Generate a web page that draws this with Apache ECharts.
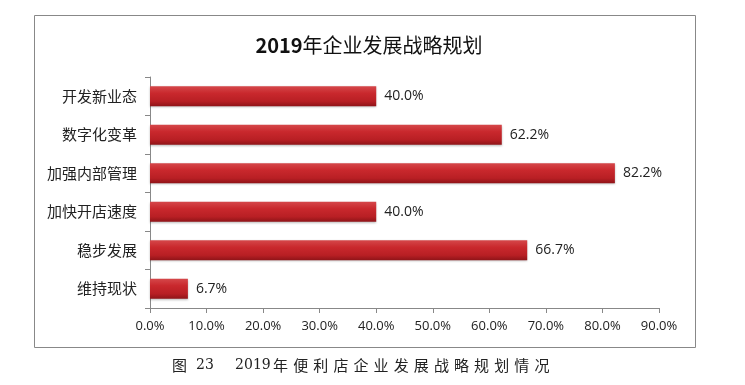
<!DOCTYPE html>
<html><head><meta charset="utf-8">
<script src="https://cdn.jsdelivr.net/npm/echarts@6/dist/echarts.min.js"></script>
<style>html,body{margin:0;padding:0;background:#fff}#c{width:745px;height:385px}</style>
</head><body><div id="c"></div>
<script>
var categories = ['开发新业态','数字化变革','加强内部管理','加快开店速度','稳步发展','维持现状'];
var values = [40.0, 62.2, 82.2, 40.0, 66.7, 6.7];
var xTicks = [0,10,20,30,40,50,60,70,80,90];
var titleYear = '2019';
var titleRest = '年企业发展战略规划';
var captionParts = ['图','23','2019','年','便','利','店','企','业','发','展','战','略','规','划','情','况'];

var captionText = captionParts.map(function(s){
  return '{' + (s === '2019' ? 'y' : (s === '23' ? 'n' : 'c')) + '|' + s + '}';
}).join('');

var chart = echarts.init(document.getElementById('c'));
chart.setOption({
  animation: false,
  title: {text: '{a|' + titleYear + '}{b|' + titleRest + '}', left: 364, textAlign: 'center', top: 30,
    textStyle: {rich: {
      a: {fontFamily: 'Noto Sans CJK SC', fontWeight: 'bold', fontSize: 20, color: '#111'},
      b: {fontFamily: 'Noto Sans CJK SC', fontWeight: 'normal', fontSize: 20, color: '#111'}}}},
  grid: {left: 150, right: 86, top: 77, bottom: 77},
  xAxis: {type: 'value', min: xTicks[0], max: xTicks[xTicks.length-1], interval: 10,
    axisLine: {show: true, lineStyle: {color: '#888'}},
    axisTick: {show: true, length: 5, lineStyle: {color: '#888'}},
    splitLine: {show: false},
    axisLabel: {formatter: function(v){return v.toFixed(1)+'%';}, color: '#222', fontSize: 13,
      fontFamily: 'Open Sans', margin: 12}},
  yAxis: {type: 'category', data: categories, inverse: true,
    axisLine: {show: true, lineStyle: {color: '#888'}},
    axisTick: {show: true, length: 5, lineStyle: {color: '#888'}},
    axisLabel: {color: '#222', fontSize: 15, fontFamily: 'Noto Sans CJK SC', margin: 13}},
  series: [{type: 'bar', data: values, barWidth: 20,
    itemStyle: {color: new echarts.graphic.LinearGradient(0,0,0,1,[
      {offset:0,color:'#d5474a'},{offset:0.35,color:'#c9282d'},{offset:0.75,color:'#b81f24'},{offset:1,color:'#8f1418'}]),
      shadowColor: 'rgba(0,0,0,0.25)', shadowBlur: 2, shadowOffsetY: 1},
    label: {show: true, position: 'right', distance: 8, color: '#222', fontSize: 14, fontFamily: 'Open Sans',
      formatter: function(p){return p.value.toFixed(1)+'%';}}}],
  graphic: [
    {type: 'rect', shape: {x: 34.5, y: 15.5, width: 661, height: 332}, style: {fill: 'none', stroke: '#888', lineWidth: 1}, z: -1},
    {type: 'text', left: 172, top: 358, style: {text: captionText, fill: '#222',
      rich: {
        c: {font: '15px "Noto Sans CJK SC"', width: 20.1, align: 'left'},
        n: {font: '14px "DejaVu Serif"', width: 20, align: 'left', padding: [0,0,0,4]},
        y: {font: '14px "DejaVu Serif"', width: 38, align: 'left', padding: [0,0,0,19]}
      }}}
  ]
});
</script></body></html>
